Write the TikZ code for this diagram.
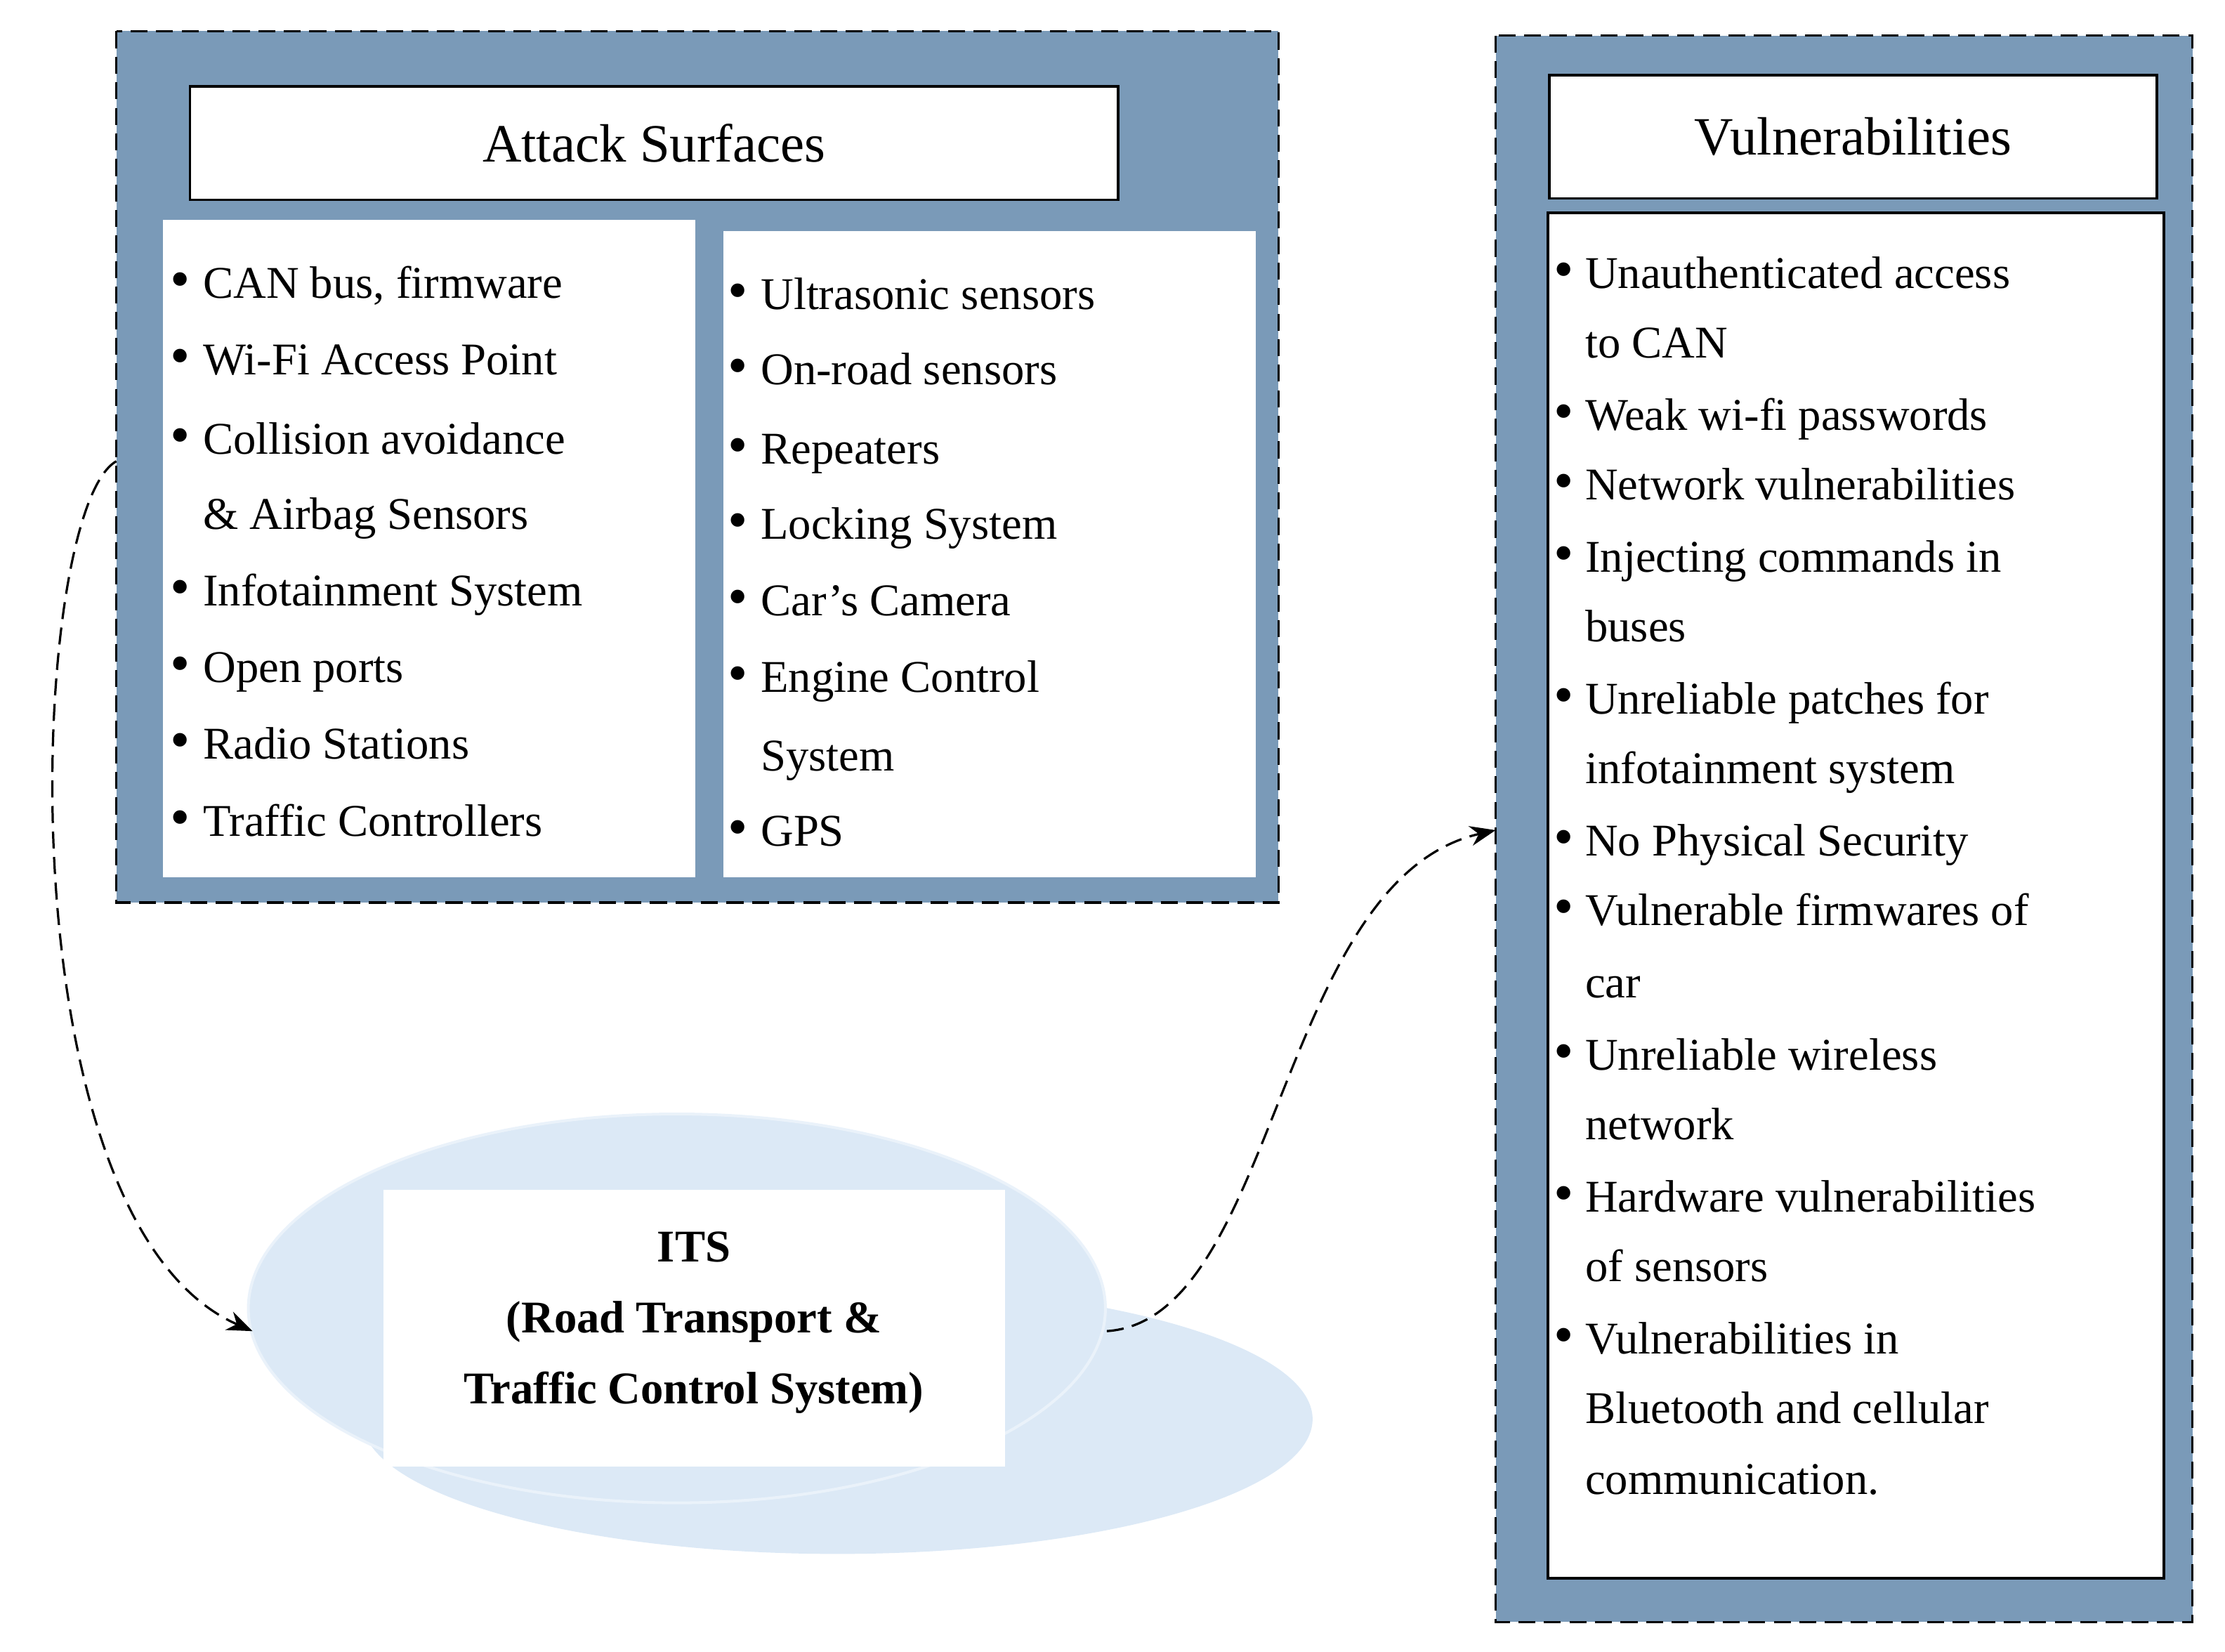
\documentclass[tikz,border=0pt]{standalone}
\usepackage{fontspec}
\setmainfont{Liberation Serif}
\usetikzlibrary{arrows.meta}
\definecolor{steel}{HTML}{7A9AB8}
\definecolor{pale}{HTML}{DCE9F6}
\begin{document}
\begin{tikzpicture}[x=1pt,y=-1pt,
  outer/.style={draw=black,dash pattern=on 12pt off 6pt,line width=1.8pt,fill=steel},
  wbox/.style={draw=black,line width=1.8pt,fill=white},
  it/.style={anchor=base west,inner sep=0pt,font=\fontsize{32}{36}\selectfont},
  bl/.style={anchor=base,inner sep=0pt,font=\fontsize{40}{36}\selectfont},
  conn/.style={dash pattern=on 12pt off 6pt,line width=1.6pt,-{Stealth[length=18pt,width=14pt]}}]
\useasboundingbox (0,0) rectangle (1568,1164);
% left group
\draw[outer] (82,22) rectangle (901,636);
\node[wbox,minimum width=654pt,minimum height=80pt,anchor=north west,font=\fontsize{38}{40}\selectfont] (ast) at (133,60) {Attack Surfaces};
\fill[white] (115,155) rectangle (490,618);
\fill[white] (510,163) rectangle (885,618);
\foreach \y/\t in {210/{CAN bus, firmware},264/{Wi-Fi Access Point},320/{Collision avoidance},427/{Infotainment System},481/{Open ports},535/{Radio Stations},589/{Traffic Controllers}}
  {\node[bl] at (127,\y) {•}; \node[it] at (143,\y) {\t};}
\node[it] at (143,373) {\& Airbag Sensors};
\foreach \y/\t in {218/{Ultrasonic sensors},271/{On-road sensors},327/{Repeaters},380/{Locking System},434/{Car’s Camera},488/{Engine Control},596/{GPS}}
  {\node[bl] at (520,\y) {•}; \node[it] at (536,\y) {\t};}
\node[it] at (536,543) {System};
% right group
\draw[outer] (1054,25) rectangle (1545,1143);
\node[wbox,minimum width=428pt,minimum height=87pt,anchor=north west,font=\fontsize{38}{40}\selectfont] (vul) at (1091,52) {Vulnerabilities};
\draw[wbox] (1091,150) rectangle (1525,1112);
\foreach \y/\t in {203/{Unauthenticated access},303/{Weak wi-fi passwords},352/{Network vulnerabilities},403/{Injecting commands in},503/{Unreliable patches for},603/{No Physical Security},652/{Vulnerable firmwares of},754/{Unreliable wireless},854/{Hardware vulnerabilities},954/{Vulnerabilities in}}
  {\node[bl] at (1102,\y) {•}; \node[it] at (1117,\y) {\t};}
\foreach \y/\t in {252/{to CAN},452/{buses},552/{infotainment system},703/{car},803/{network},903/{of sensors},1003/{Bluetooth and cellular},1053/{communication.}}
  {\node[it] at (1117,\y) {\t};}
% ITS
\fill[pale] (590,1000) ellipse [x radius=335pt,y radius=95pt];
\draw[pale!60!white,line width=2pt,fill=pale] (477,922) ellipse [x radius=302pt,y radius=137pt];
\node[fill=white,minimum width=438pt,minimum height=195pt,anchor=north west,inner sep=0pt] (itsb) at (270,838) {};
\node[align=center,font=\bfseries\fontsize{32}{50}\selectfont] (its) at (489,932) {ITS\\(Road Transport \&\\Traffic Control System)};
\coordinate (itsL) at (178,938);
\coordinate (itsR) at (780,938);
\coordinate (asL) at (82,325);
\coordinate (vuL) at (1054,585);
\draw[conn] (asL) .. controls (20,360) and (0,860) .. (itsL);
\draw[conn] (itsR) .. controls (900,930) and (900,620) .. (vuL);
\end{tikzpicture}
\end{document}
